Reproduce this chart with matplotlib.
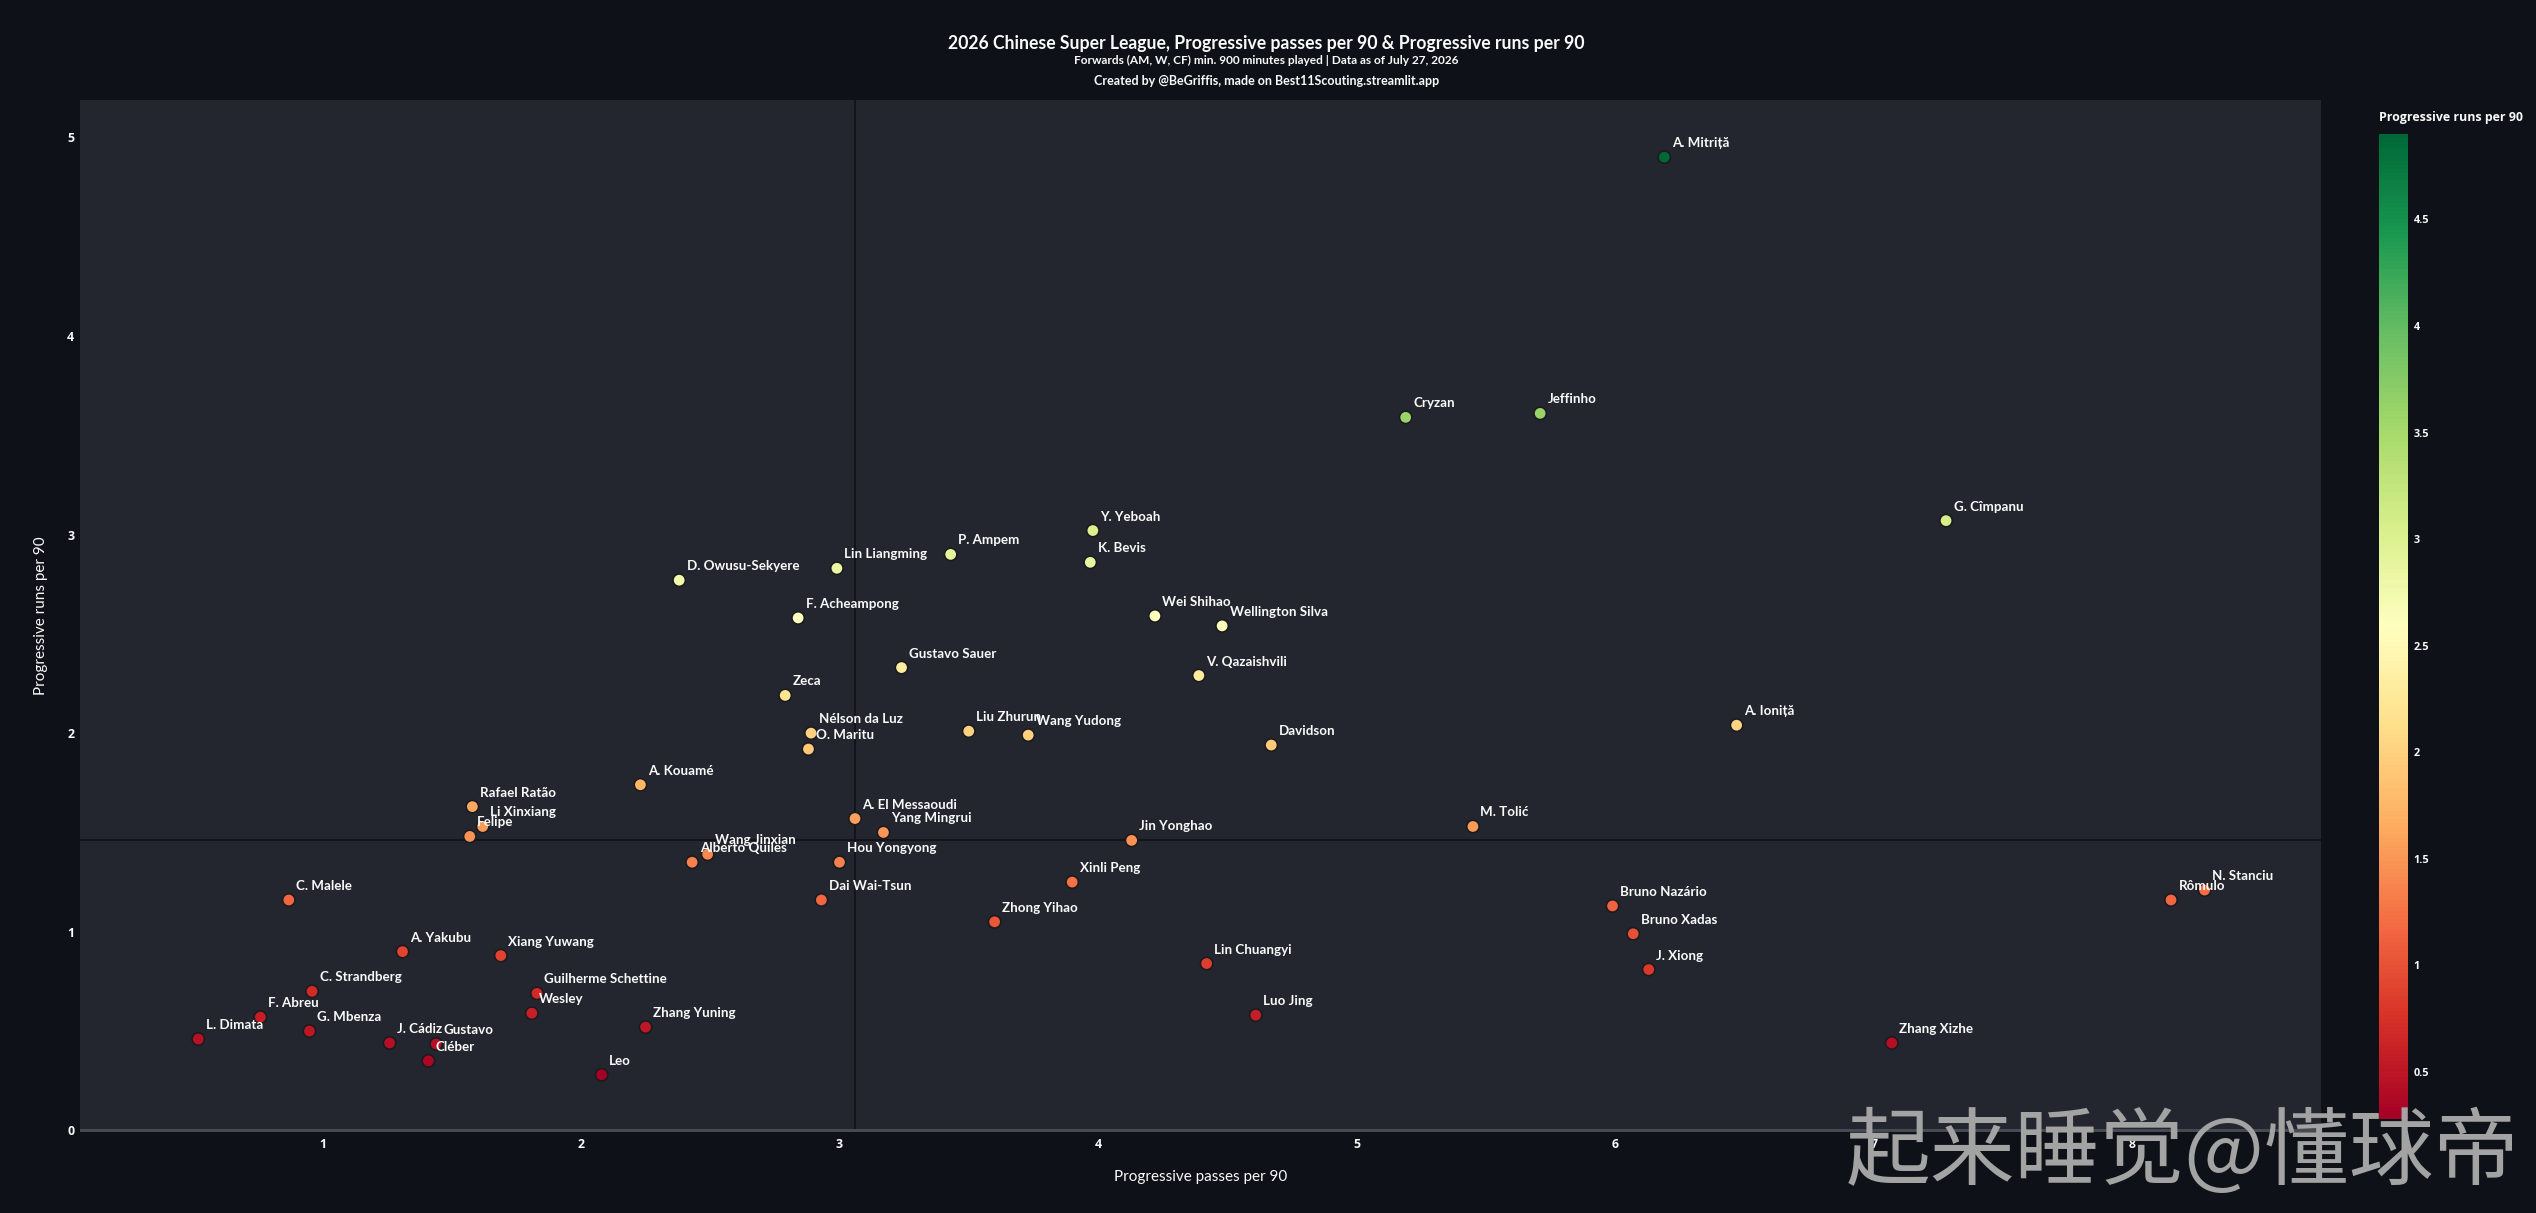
import numpy as np
import matplotlib
matplotlib.use('Agg')
from matplotlib import pyplot as plt
from matplotlib import font_manager
from matplotlib.colors import Normalize

# players and their per-90 numbers
players = ['A. Mitriță', 'Cryzan', 'Jeffinho', 'G. Cîmpanu', 'Y. Yeboah',
           'K. Bevis', 'P. Ampem', 'Lin Liangming', 'D. Owusu-Sekyere',
           'F. Acheampong', 'Wei Shihao', 'Wellington Silva', 'Gustavo Sauer',
           'V. Qazaishvili', 'Zeca', 'Nélson da Luz', 'O. Maritu',
           'Liu Zhurun', 'Wang Yudong', 'Davidson', 'A. Ioniță', 'A. Kouamé',
           'Rafael Ratão', 'Li Xinxiang', 'Felipe', 'A. El Messaoudi',
           'Yang Mingrui', 'Jin Yonghao', 'M. Tolić', 'Wang Jinxian',
           'Alberto Quiles', 'Hou Yongyong', 'Xinli Peng', 'Dai Wai-Tsun',
           'C. Malele', 'Zhong Yihao', 'Bruno Nazário', 'Bruno Xadas',
           'J. Xiong', 'Rômulo', 'N. Stanciu', 'Zhang Xizhe', 'Lin Chuangyi',
           'Luo Jing', 'A. Yakubu', 'Xiang Yuwang', 'C. Strandberg',
           'Guilherme Schettine', 'Wesley', 'F. Abreu', 'G. Mbenza',
           'L. Dimata', 'J. Cádiz', 'Gustavo', 'Cléber', 'Zhang Yuning', 'Leo']

prog_passes = [6.19, 5.19, 5.71, 7.28, 3.98,
               3.97, 3.43, 2.99, 2.38,
               2.84, 4.22, 4.48, 3.24,
               4.39, 2.79, 2.89, 2.88,
               3.50, 3.73, 4.67, 6.47, 2.23,
               1.58, 1.62, 1.57, 3.06,
               3.17, 4.13, 5.45, 2.49,
               2.43, 3.00, 3.90, 2.93,
               0.87, 3.60, 5.99, 6.07,
               6.13, 8.15, 8.28, 7.07, 4.42,
               4.61, 1.31, 1.69, 0.96,
               1.83, 1.81, 0.76, 0.95,
               0.52, 1.26, 1.44, 1.41, 2.25, 2.08]

prog_runs = [4.90, 3.59, 3.61, 3.07, 3.02,
             2.86, 2.90, 2.83, 2.77,
             2.58, 2.59, 2.54, 2.33,
             2.29, 2.19, 2.00, 1.92,
             2.01, 1.99, 1.94, 2.04, 1.74,
             1.63, 1.53, 1.48, 1.57,
             1.50, 1.46, 1.53, 1.39,
             1.35, 1.35, 1.25, 1.16,
             1.16, 1.05, 1.13, 0.99,
             0.81, 1.16, 1.21, 0.44, 0.84,
             0.58, 0.90, 0.88, 0.70,
             0.69, 0.59, 0.57, 0.50,
             0.46, 0.44, 0.435, 0.35, 0.52, 0.28]

avg_passes = 3.06
avg_runs = 1.46

x_ticks = [1, 2, 3, 4, 5, 6, 7, 8]
y_ticks = [0, 1, 2, 3, 4, 5]
cbar_ticks = [0.5, 1, 1.5, 2, 2.5, 3, 3.5, 4, 4.5]

title = '2026 Chinese Super League, Progressive passes per 90 & Progressive runs per 90'
subtitle = 'Forwards (AM, W, CF) min. 900 minutes played | Data as of July 27, 2026'
credit = 'Created by @BeGriffis, made on Best11Scouting.streamlit.app'
watermark = '起来睡觉@懂球帝'

installed = {f.name for f in font_manager.fontManager.ttflist}
narrow = 'Liberation Sans Narrow' if 'Liberation Sans Narrow' in installed else 'Lato'
plotly_font = 'Open Sans'

BG = '#0e1117'
PLOT_BG = '#24262f'
TXT = '#fafafa'

fig = plt.figure(figsize=(25.36, 12.13), dpi=100, facecolor=BG)
ax = fig.add_axes([0.0315, 0.0668, 0.8837, 0.8508])
ax.set_facecolor(PLOT_BG)

norm = Normalize(vmin=min(prog_runs), vmax=max(prog_runs))
cmap = plt.get_cmap('RdYlGn')

ax.axvline(avg_passes, color='#121318', lw=1.3, zorder=1)
ax.axhline(avg_runs, color='#121318', lw=1.3, zorder=1)
ax.axhline(0, color='#474a53', lw=2.2, zorder=1)

sc = ax.scatter(prog_passes, prog_runs, c=prog_runs, cmap=cmap, norm=norm,
                s=80, edgecolors='#1b1b1f', linewidths=1.2, zorder=3)

for name, px, py in zip(players, prog_passes, prog_runs):
    ax.annotate(name, (px, py), xytext=(7.5, 14), textcoords='offset pixels',
                ha='left', va='center', color=TXT, fontsize=9.6,
                family=[narrow, 'DejaVu Sans'], fontweight='bold', zorder=4)

ax.set_xlim(0.062, 8.73)
ax.set_ylim(-0.008, 5.188)
ax.set_xticks(x_ticks)
ax.set_yticks(y_ticks)
ax.tick_params(length=0, colors=TXT, labelsize=8.8, pad=4)
for lab in ax.get_xticklabels() + ax.get_yticklabels():
    lab.set_family(plotly_font)
    lab.set_fontweight('bold')
for sp in ax.spines.values():
    sp.set_visible(False)

ax.set_xlabel('Progressive passes per 90', color=TXT, fontsize=11,
              family=narrow, labelpad=14)
ax.set_ylabel('Progressive runs per 90', color=TXT, fontsize=11,
              family=narrow, labelpad=14)

# colorbar on the right
cax = fig.add_axes([0.9381, 0.0775, 0.0114, 0.812])
cb = fig.colorbar(sc, cax=cax, ticks=cbar_ticks)
cb.outline.set_visible(False)
cb.ax.tick_params(length=0, colors=TXT, labelsize=7.8, pad=4)
cb.ax.set_yticklabels([('%g' % t) for t in cbar_ticks])
for lab in cb.ax.get_yticklabels():
    lab.set_family(plotly_font)
    lab.set_fontweight('bold')
fig.text(0.9381, 0.9035, 'Progressive runs per 90', color=TXT, fontsize=8.9,
         family=plotly_font, fontweight='bold', ha='left', va='center')

# titles
fig.text(0.4995, 0.9638, title, color=TXT, fontsize=12.7, family=narrow,
         fontweight='bold', ha='center', va='center')
fig.text(0.4995, 0.9500, subtitle, color=TXT, fontsize=8.6, family=narrow,
         fontweight='bold', ha='center', va='center')
fig.text(0.4995, 0.933, credit, color=TXT, fontsize=9, family=narrow,
         fontweight='bold', ha='center', va='center')

# watermark over everything
fig.text(0.9935, 0.049, watermark, color='#a3a3a3', fontsize=61,
         family=['Noto Sans CJK SC', 'DejaVu Sans'], ha='right', va='center',
         zorder=20)

fig.savefig('out.png', dpi=100, facecolor=BG)
